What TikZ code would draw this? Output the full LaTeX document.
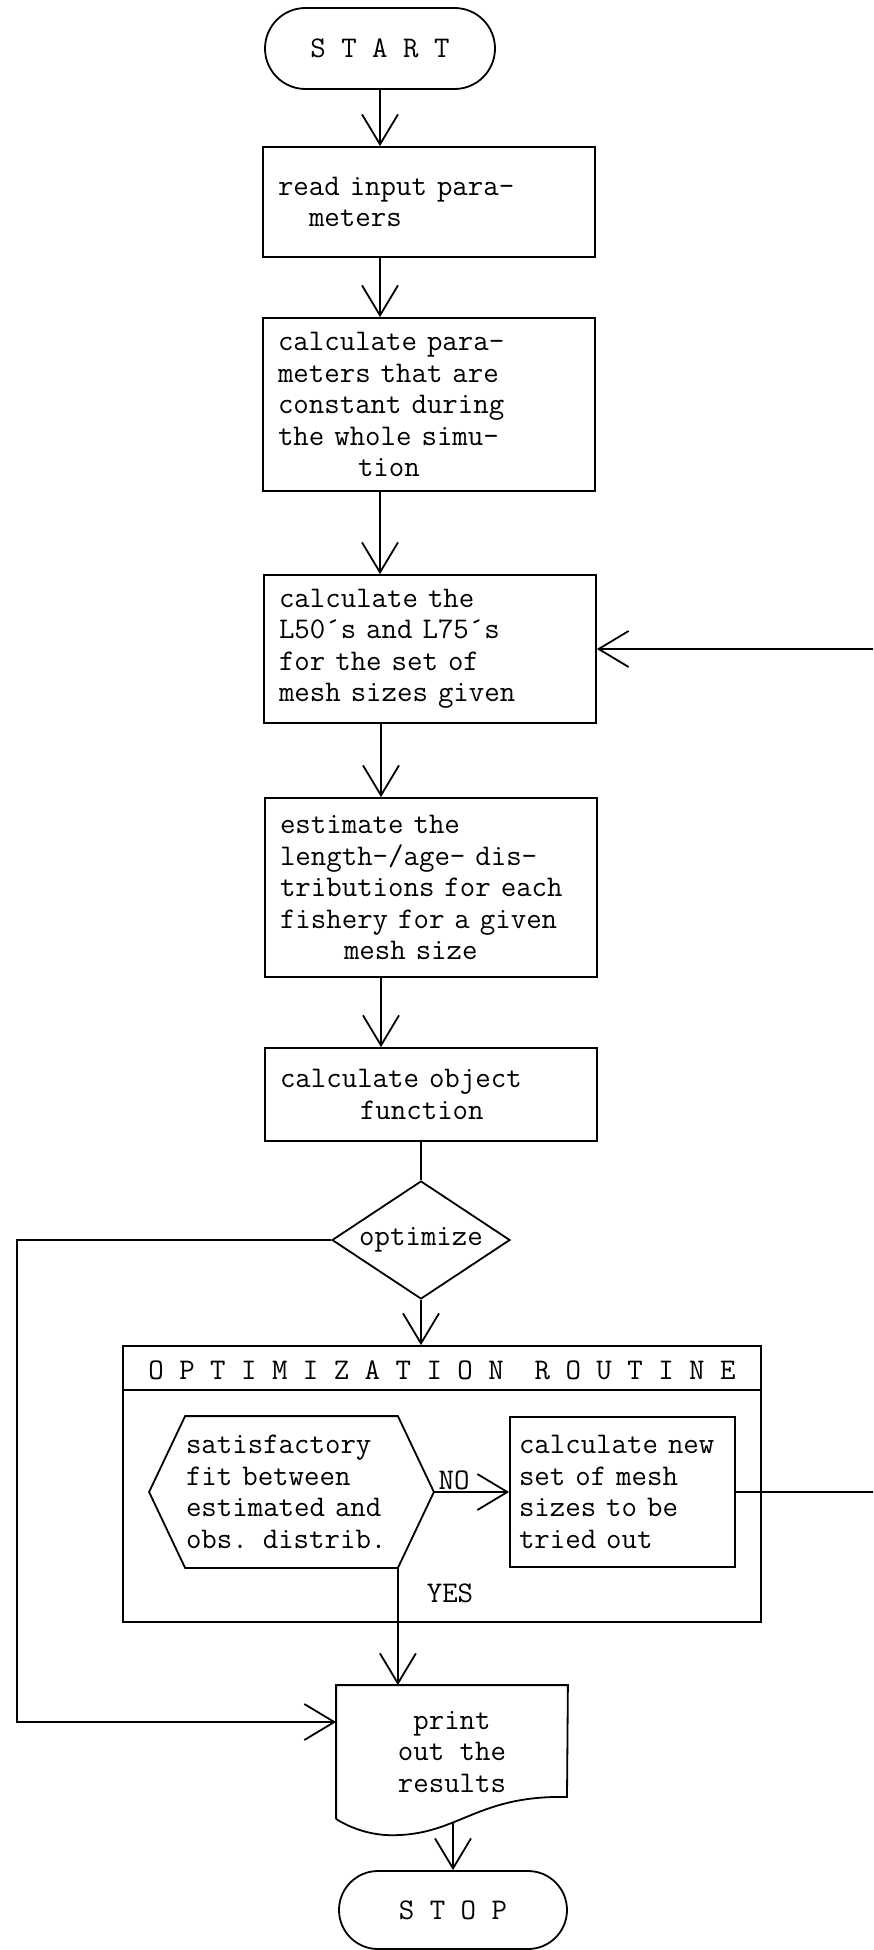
\documentclass[tikz,border=0pt]{standalone}
\usepackage{fontspec}
\usetikzlibrary{arrows.meta,shapes.geometric,shapes.misc,calc}
\begin{document}
\begin{tikzpicture}[x=1pt,y=-1pt,line width=1.8pt,
  every node/.style={font=\ttfamily\fontsize{30}{31.5}\selectfont},
  arr/.style={-{Straight Barb[length=30pt,width=36pt]}},
  procbox/.style={draw,rectangle,inner xsep=15pt,inner ysep=0pt,text width=302pt,align=left,minimum width=332pt},
  term/.style={draw,rounded rectangle,inner sep=0pt},
  lbl/.style={inner sep=0pt}]
\useasboundingbox (0,0) rectangle (873,1950);
\clip (0,0) rectangle (873,1950);
% terminals
\node[term,minimum width=230pt,minimum height=81pt] (start) at (380,48.5) {S T A R T};
\node[term,minimum width=228pt,minimum height=78pt] (stop) at (453,1910) {S T O P};
% process boxes
\node[procbox,minimum height=110pt] (box1) at (429,202) {read input para-\\\hspace*{31pt}meters};
\node[procbox,minimum height=173pt] (box2) at (429,404.5) {calculate para-\\meters that are\\constant during\\the whole simu-\\\hspace*{80pt}tion};
\node[procbox,minimum height=148pt] (box3) at (430,649) {calculate the\\L50´s and L75´s\\for the set of\\mesh sizes given};
\node[procbox,minimum height=179pt] (box4) at (431,887.5) {estimate the\\length-/age- dis-\\tributions for each\\fishery for a given\\\hspace*{64pt}mesh size};
\node[procbox,minimum height=93pt] (box5) at (431,1094.5) {calculate object\\\hspace*{80pt}function};
% decision
\node[draw,diamond,aspect=1.5,inner sep=0pt,minimum width=178pt,minimum height=118pt] (opt) at (421,1240) {optimize};
% optimization routine frame
\node[draw,rectangle,minimum width=638pt,minimum height=276pt,inner sep=0pt] (outer) at (442,1484) {};
\draw ($(outer.north west)+(0,45)$) -- ($(outer.north east)+(0,45)$);
\node[lbl] (hdr) at (442,1370) {O P T I M I Z A T I O N\ \ R O U T I N E};
% hexagon test
\node[rectangle,inner sep=0pt,text width=211pt,align=left,minimum width=211pt,minimum height=150pt] (hex) at (291.5,1492)
  {satisfactory\\fit between\\estimated and\\obs. distrib.};
\draw (hex.north west) -- (hex.north east) -- ($(hex.east)+(36,0)$) -- (hex.south east) -- (hex.south west) -- ($(hex.west)+(-36,0)$) -- cycle;
\coordinate (hexR) at ($(hex.east)+(36,0)$);
% new mesh sizes
\node[draw,rectangle,inner xsep=9pt,inner ysep=0pt,text width=207pt,align=left,minimum width=225pt,minimum height=150pt] (newset) at (622.5,1492)
  {calculate new\\set of mesh\\sizes to be\\tried out};
% print document
\node[rectangle,inner sep=0pt,minimum width=230pt,minimum height=132pt,align=center] (print) at (452,1752) {print\\out the\\results};
\draw (print.south west) -- (print.north west) -- (print.north east) -- (567,1797)
  .. controls (480,1795) and (460,1832) .. (400,1835)
  .. controls (370,1837) and (347,1826) .. (print.south west);
\coordinate (printbot) at (453,1823);
% labels
\node[lbl] (nolbl) at (454,1480) {NO};
\node[lbl] (yeslbl) at (450,1593) {YES};
% connectors
\draw[arr] (start.south -| 380,0) -- (box1.north -| 380,0);
\draw[arr] (box1.south -| 380,0) -- (box2.north -| 380,0);
\draw[arr] (box2.south -| 380,0) -- (box3.north -| 380,0);
\draw[arr] (box3.south -| 381,0) -- (box4.north -| 381,0);
\draw[arr] (box4.south -| 381,0) -- (box5.north -| 381,0);
\draw (opt.north |- box5.south) -- (opt.north);
\draw[arr] (opt.south) -- (opt.south |- outer.north);
\coordinate (lc1) at (17,1240);
\coordinate (lc2) at (17,1722);
\draw[arr] (opt.west) -- (lc1) -- (lc2) -- (lc2 -| print.west);
\draw[arr] (hexR) -- (hexR -| newset.west);
\coordinate (rc1) at (900,1492);
\coordinate (rc2) at (900,649);
\draw[arr] (newset.east) -- (rc1) -- (rc2) -- (box3.east);
\draw[arr] (hex.south east) -- (hex.south east |- print.north);
\draw[arr] (printbot) -- (stop.north);
\end{tikzpicture}
\end{document}
